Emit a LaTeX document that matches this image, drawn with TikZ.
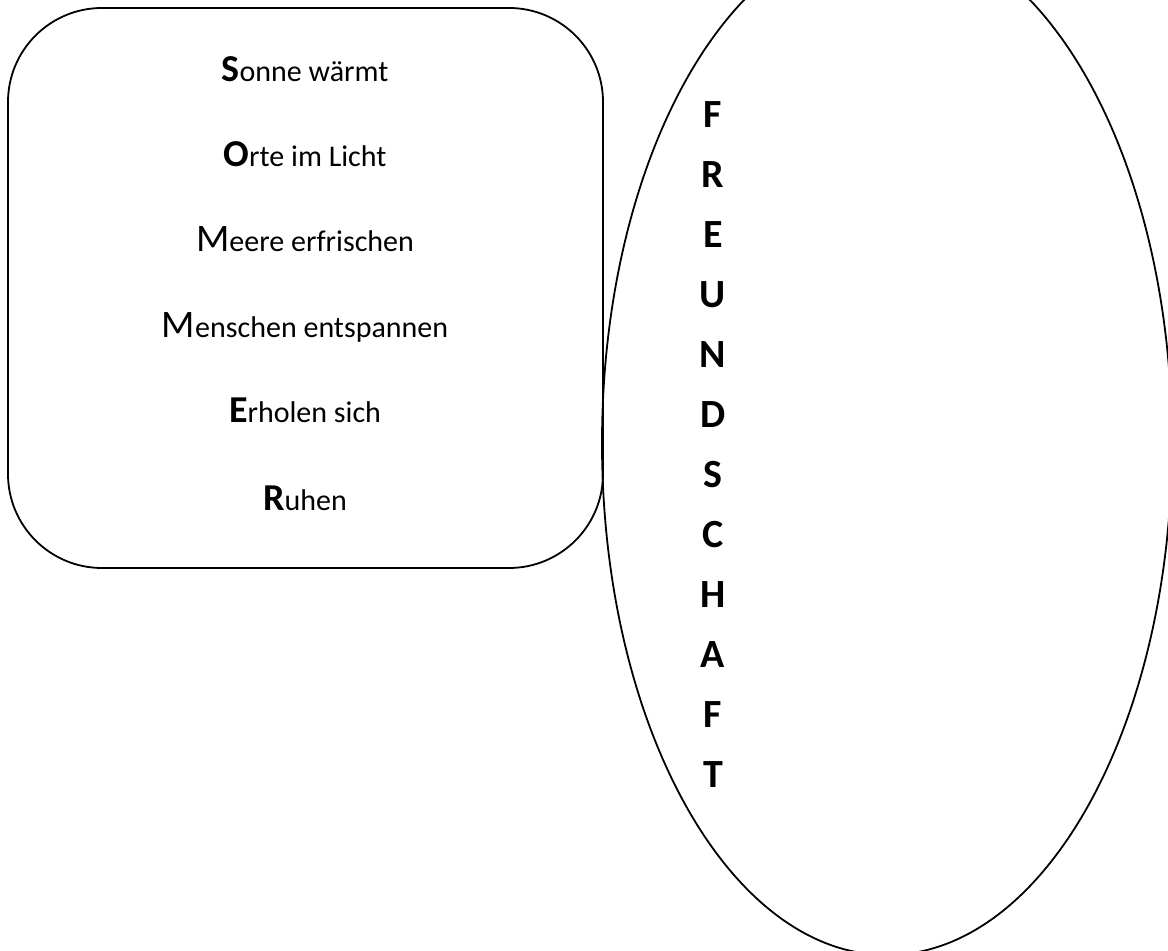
\documentclass[tikz,border=0pt]{standalone}
\usepackage{fontspec}
\setmainfont{Carlito}
\usetikzlibrary{positioning}

\newcommand{\capB}[1]{{\fontsize{19}{23}\selectfont\bfseries #1}}
\newcommand{\capR}[1]{{\fontsize{19.5}{23}\selectfont #1}}

\begin{document}
\begin{tikzpicture}[x = .5pt, y = -.5pt, line width = .9pt,
  line/.style = {font=\fontsize{15}{18}\selectfont, inner sep=0pt, anchor=base},
  letter/.style = {font=\fontsize{20}{24}\selectfont\bfseries, inner sep=0pt, anchor=base}]
\clip (0,0) rectangle (1168,951);
% Left box
\draw[rounded corners = 47pt] (8,8) rectangle (603,568);
\node[line] (sonneLine) at (305,82) {\capB{S}onne wärmt};
\node[line] (orteLine) at (305,167) {\capB{O}rte im Licht};
\node[line] (meereLine) at (305,252) {\capR{M}eere erfrischen};
\node[line] (menschenLine) at (305,338) {\capR{M}enschen entspannen};
\node[line] (erholenLine) at (305,423) {\capB{E}rholen sich};
\node[line] (ruhenLine) at (305,511) {\capB{R}uhen};
% Oval with the word
\draw (887,443) ellipse (142.5pt and 256pt);
\foreach \ch [count=\i] in {F,R,E,U,N,D,S,C,H,A,F,T}
  \node[letter] (letter\i) at (713,68+60*\i) {\ch};
\end{tikzpicture}
\end{document}
